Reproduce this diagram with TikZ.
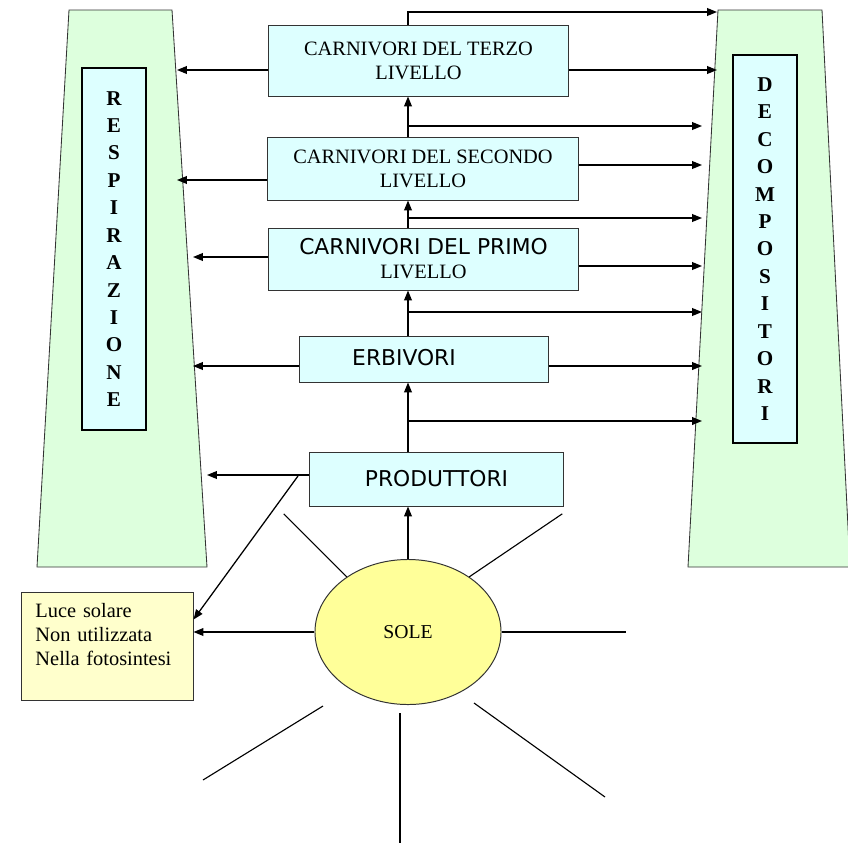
\documentclass[tikz,border=0pt]{standalone}
\usepackage{fontspec}
\setmainfont{Liberation Serif}
\newfontfamily\verdana{DejaVu Sans}
\usetikzlibrary{positioning}
\usetikzlibrary{calc}
\usetikzlibrary{shapes.geometric, arrows.meta}
\definecolor{celeste}{HTML}{DDFFFF}
\definecolor{verdino}{HTML}{DDFFDD}
\definecolor{giallino}{HTML}{FFFFCC}
\definecolor{giallosole}{HTML}{FFFF99}
\tikzstyle{livello} = [rectangle, draw=black!80, line width=0.7pt, fill=celeste, align=center, inner sep=0pt, font=\fontsize{14.5}{17}\selectfont]
\tikzstyle{colonna} = [rectangle, draw=black, line width=2pt, fill=celeste, minimum width=1.6cm, align=center, font=\fontsize{15}{19.5}\selectfont\bfseries]
\tikzstyle{vtext} = [font=\verdana\fontsize{15.5}{18}\selectfont]
\tikzstyle{arrow} = [line width=0.9pt, -{Triangle[length=7pt,width=5.5pt]}]
\tikzstyle{raggio} = [line width=0.8pt]

\begin{document}
\begin{tikzpicture}[x=0.025cm, y=-0.025cm]
\useasboundingbox (0,0) rectangle (848,842);
\filldraw[fill=verdino, draw=black!80, line width=0.6pt] (69,10) -- (172,10) -- (207,567) -- (37,567) -- cycle;
\begin{scope}
\clip (0,0) rectangle (848,842);
\filldraw[fill=verdino, draw=black!80, line width=0.6pt] (718,10) -- (822,10) -- (850,567) -- (688,567) -- cycle;
\end{scope}
\node[colonna, minimum height=9.05cm] (resp) at (114,249) {R\\E\\S\\P\\I\\R\\A\\Z\\I\\O\\N\\E};
\node[colonna, minimum height=9.7cm] (dec) at (765,249) {D\\E\\C\\O\\M\\P\\O\\S\\I\\T\\O\\R\\I};
\node[livello, minimum width=7.475cm, minimum height=1.775cm] (ter) at (418.5,60.5) {CARNIVORI DEL TERZO\\LIVELLO};
\node[livello, minimum width=7.75cm, minimum height=1.575cm] (sec) at (423,168.5) {CARNIVORI DEL SECONDO\\LIVELLO};
\node[livello, minimum width=7.725cm, minimum height=1.55cm] (pri) at (423.5,259) {{\verdana\fontsize{15.5}{18}\selectfont CARNIVORI DEL PRIMO}\\LIVELLO};
\node[livello, minimum width=6.2cm, minimum height=1.15cm] (erb) at (424,359) {};
\node[vtext] (erbtxt) at (404,358) {ERBIVORI};
\node[livello, vtext, minimum width=6.325cm, minimum height=1.35cm] (prod) at (436.5,479) {PRODUTTORI};
\node[rectangle, draw=black!80, line width=0.7pt, fill=giallino, minimum width=4.275cm, minimum height=2.7cm, text width=3.6cm, align=left, font=\fontsize{14.5}{17}\selectfont] (luce) at (107.5,646) {Luce solare\\Non utilizzata\\Nella fotosintesi\\\mbox{}};
\node[ellipse, draw=black!80, line width=0.7pt, fill=giallosole, minimum width=4.65cm, minimum height=3.625cm, font=\fontsize{14}{16}\selectfont] (sole) at (408,632) {SOLE};
% catena alimentare
\coordinate (asse) at (408,12);
\coordinate (dtop) at (717,12);
\draw[arrow] (sole.north) -- (prod.south -| sole.north);
\draw[arrow] (prod.north -| asse) -- (erb.south -| asse);
\draw[arrow] (erb.north -| asse) -- (pri.south -| asse);
\draw[arrow] (pri.north -| asse) -- (sec.south -| asse);
\draw[arrow] (sec.north -| asse) -- (ter.south -| asse);
\draw[arrow] (ter.north -| asse) -- (asse) -- (dtop);
\foreach \y in {126,218,312,421} {
  \coordinate (r\y) at (702,\y);
  \draw[arrow] (asse |- r\y) -- (r\y);
}
\foreach \liv/\y/\x in {ter/70/717, sec/165/702, pri/266/702, erb/366/702} {
  \coordinate (d\y) at (\x,\y);
  \draw[arrow] (\liv.east |- d\y) -- (d\y);
}
\foreach \liv/\y/\x in {ter/70/177, sec/180/177, pri/257/193, erb/366/193, prod/475/207} {
  \coordinate (s\y) at (\x,\y);
  \draw[arrow] (\liv.west |- s\y) -- (s\y);
}
\coordinate (bivio) at (298,476);
\draw[arrow] (bivio) -- ($(luce.north east)+(0,28)$);
\draw[arrow] (sole.west) -- (sole.west -| luce.east);
% raggi
\draw[raggio] (sole.138) -- ++(-63,-63);
\draw[raggio] (sole.42) -- ++(93,-63);
\draw[raggio] (sole.east) -- ++(124,0);
\draw[raggio] ($(sole.center)+(66,71)$) -- ++(131,94);
\draw[raggio] ($(sole.center)+(-85,74)$) -- ++(-120,74);
\draw[raggio] ($(sole.center)+(-8,81)$) -- ++(0,140);
\end{tikzpicture}
\end{document}
